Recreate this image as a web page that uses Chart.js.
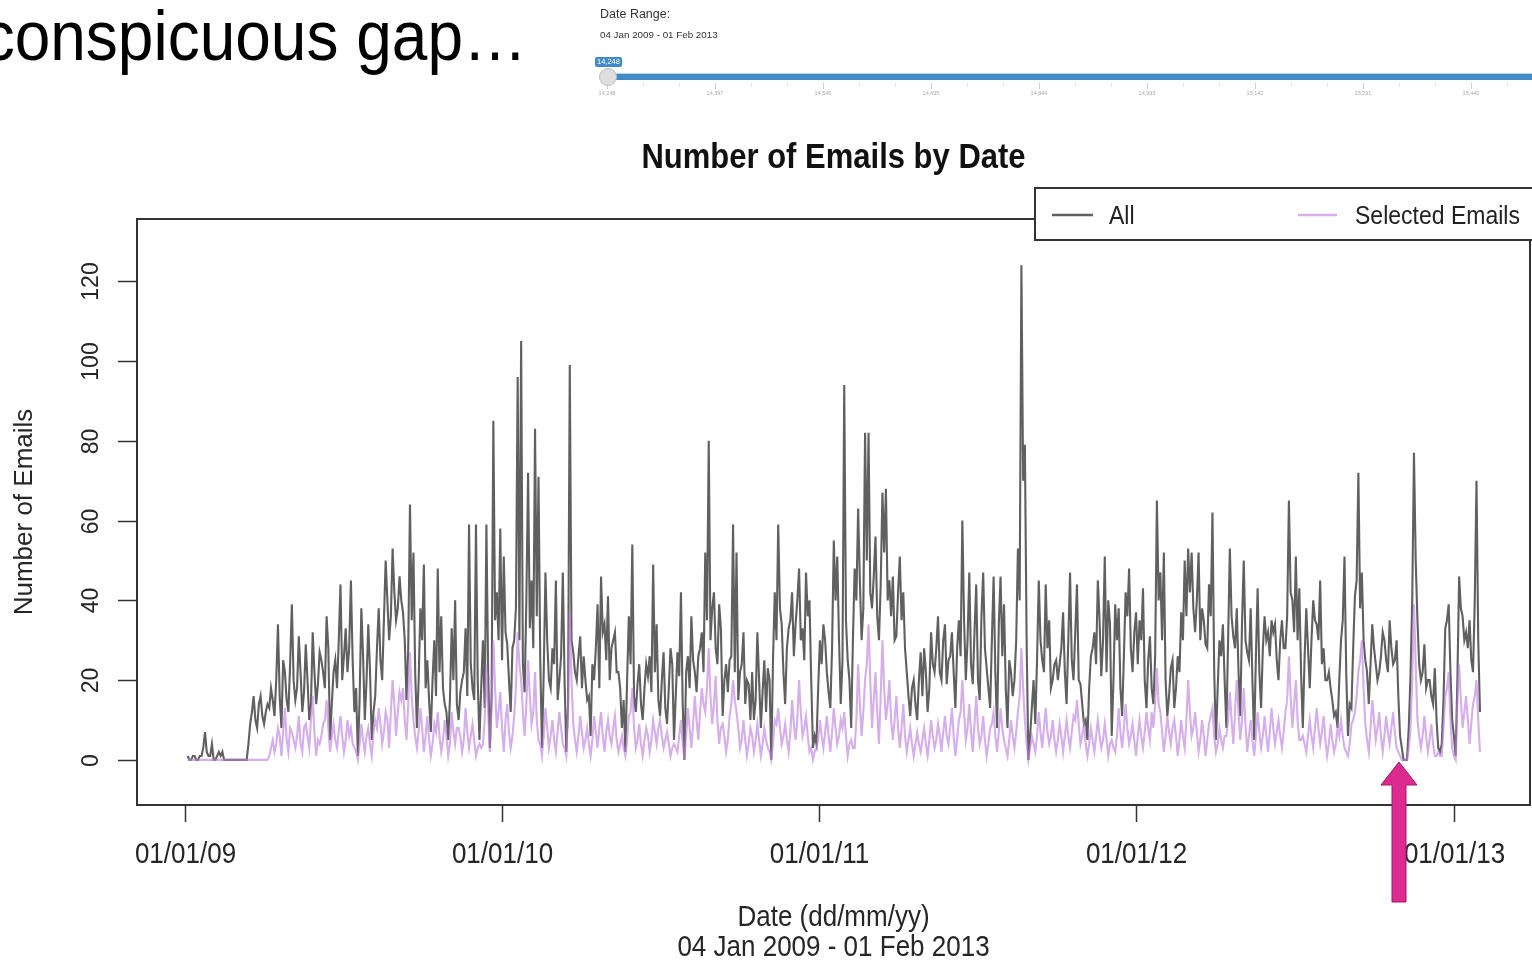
<!DOCTYPE html>
<html lang="en">
<head>
<meta charset="UTF-8">
<title>Number of Emails by Date</title>
<script src="https://cdn.jsdelivr.net/npm/chart.js"></script>
<style>
  html, body { margin: 0; padding: 0; background: #fff; }
  body { width: 1532px; height: 963px; position: relative; overflow: hidden;
         font-family: "Liberation Sans", Arial, sans-serif; }
  .abs { position: absolute; white-space: nowrap; }
  #slideText { right: 1005px; top: 6px; font-size: 64px; line-height: 64px; color: #000;
               transform: scaleY(1.1); transform-origin: 0 56px; }
  #chart { position: absolute; left: 0; top: 0; }
  #arrow { position: absolute; left: 0; top: 0; pointer-events: none; }
</style>
</head>
<body>

<canvas id="chart" width="1532" height="963"></canvas>

<!-- bits of the slide and the shiny slider above the plot -->
<div id="slideText" class="abs">conspicuous gap…</div>
<div id="slider"></div>

<svg id="arrow" width="1532" height="963">
  <polygon points="1399,762 1417,785 1406,785 1406,902 1392,902 1392,785 1381,785"
           fill="#dd2a8f" stroke="#a3156a" stroke-width="1" />
</svg>

<script>
// counts every 2 days from 04 Jan 2009 (day 14248):
// the A lists hold days 0,4,8,.. and the B lists the days in between (2,6,10,..)
const startDay = 14248;

const allA = [
  1,0,1,0,1,7,1,4,0,2,
  2,0,0,0,0,0,0,0,9,16,
  8,16,9,14,18,11,34,8,22,12,
  39,15,31,12,29,10,32,14,27,22,
  36,5,22,18,44,26,22,45,12,1,
  38,10,34,5,16,38,20,50,30,53,
  35,46,37,15,64,52,8,38,49,25,
  7,30,48,36,14,5,33,40,10,20,
  33,59,18,59,5,30,59,3,85,42,
  58,51,29,12,30,96,105,17,72,45,
  83,71,3,47,20,28,45,20,47,2,
  99,27,20,31,26,15,6,20,39,46,
  34,41,28,32,22,8,2,36,54,12,
  24,10,24,26,49,34,11,27,9,28,
  5,27,42,0,26,36,22,26,32,52,
  80,38,28,39,11,24,25,59,52,22,
  32,20,10,10,32,8,25,23,0,42,
  59,34,14,33,42,34,48,33,47,40,
  3,4,30,34,22,13,55,51,14,94,
  25,8,48,63,30,82,82,38,56,30,
  67,68,45,46,31,51,42,22,11,20,
  10,27,28,12,32,22,36,20,34,25,
  32,13,35,60,20,47,19,44,15,47,
  23,13,46,8,46,39,8,22,20,53,
  124,79,0,13,9,45,25,44,35,20,
  25,24,37,14,47,20,44,19,9,5,
  26,32,45,21,51,40,6,39,38,11,
  42,48,22,37,35,43,13,31,14,65,
  47,52,11,23,13,26,37,50,53,52,
  32,52,38,29,44,62,5,30,34,8,
  53,31,38,11,50,27,38,5,43,13,
  36,32,35,34,20,35,28,65,40,51,
  43,8,38,18,40,34,45,28,20,18,
  11,8,30,51,6,13,41,72,47,25,
  14,34,24,22,32,25,35,24,30,6,
  0,0,21,77,35,20,29,20,16,23,
  3,4,33,39,10,1,46,36,32,35,
  22,70,12
];

const allB = [
  0,1,0,1,3,2,1,0,1,1,
  0,0,0,0,0,0,0,4,12,10,
  14,11,12,13,15,20,16,25,15,24,
  20,18,22,17,20,14,22,19,25,18,
  28,14,25,30,20,33,28,25,18,15,
  26,20,22,12,28,25,35,40,36,42,
  38,40,30,28,35,22,20,30,18,15,
  20,16,22,18,12,15,20,14,17,22,
  16,24,15,20,18,13,22,16,35,30,
  25,32,20,28,38,30,24,40,33,28,
  36,25,22,30,18,24,15,26,20,14,
  30,22,26,18,20,16,24,28,18,32,
  25,20,30,22,18,15,20,24,16,19,
  14,18,21,17,22,15,20,13,18,24,
  16,21,14,22,18,25,17,28,22,35,
  30,42,24,33,20,17,26,22,15,24,
  14,19,22,15,20,17,12,20,25,30,
  38,22,28,35,26,40,30,25,36,20,
  6,18,24,30,17,28,40,30,25,35,
  20,30,40,45,38,50,42,46,36,44,
  52,40,36,30,42,35,28,16,18,14,
  20,16,22,18,24,28,22,30,19,26,
  22,28,26,35,30,24,32,20,36,28,
  18,30,22,34,26,18,25,16,30,40,
  70,30,6,20,25,30,22,28,18,24,
  20,28,22,30,25,32,20,14,10,18,
  28,24,35,30,22,34,20,30,18,26,
  36,28,32,24,30,20,25,18,26,40,
  30,20,16,25,18,22,30,36,42,38,
  40,30,35,28,36,22,18,26,20,30,
  36,28,22,34,30,25,20,26,22,28,
  30,26,32,25,30,28,36,42,32,30,
  22,25,28,30,35,30,24,20,22,15,
  12,20,35,22,14,28,45,38,30,22,
  24,28,20,26,30,22,28,25,16,3,
  0,8,40,50,24,22,18,20,14,10,
  2,15,35,22,6,20,38,30,28,25,
  40,30
];

const selectedA = [
  0,0,0,0,0,0,0,0,0,0,
  0,0,0,0,0,0,0,0,0,0,
  0,0,0,0,3,2,8,1,13,2,
  7,3,11,2,9,3,16,1,4,9,
  15,2,9,3,11,2,10,8,3,0,
  9,2,8,1,10,13,4,12,3,20,
  6,17,18,5,27,10,3,13,2,11,
  1,9,12,2,10,1,12,4,8,2,
  13,3,9,1,4,4,24,2,30,8,
  17,2,14,3,11,32,20,6,25,9,
  22,5,1,13,3,10,2,12,4,1,
  37,9,2,11,3,8,1,11,3,12,
  2,10,4,11,2,6,1,11,18,3,
  9,1,8,2,10,4,10,3,7,1,
  4,2,10,0,13,3,16,5,18,12,
  28,9,21,4,9,2,11,20,12,3,
  10,1,8,2,9,1,8,3,0,10,
  13,4,9,2,15,5,20,6,11,2,
  0,3,10,3,11,2,13,4,10,12,
  1,5,3,24,6,20,34,8,22,4,
  30,10,20,5,16,3,14,2,8,1,
  7,2,8,1,10,3,9,2,11,4,
  13,1,10,20,5,14,2,16,4,11,
  1,8,12,2,13,5,1,10,3,12,
  28,10,0,6,2,12,3,13,4,10,
  2,9,2,10,3,11,15,4,9,1,
  8,2,10,3,9,1,5,2,13,3,
  14,4,9,1,10,3,12,5,8,23,
  12,2,11,4,10,1,10,3,20,6,
  12,2,10,1,9,13,2,8,3,6,
  17,4,20,5,18,2,10,1,12,3,
  11,2,13,4,10,3,12,26,8,20,
  5,6,2,10,3,13,4,11,1,9,
  2,8,10,3,1,9,12,22,30,9,
  2,15,5,12,2,11,4,12,3,1,
  0,0,8,39,10,3,11,2,9,1,
  2,1,16,22,3,0,24,8,16,4,
  14,20,2
];

const selectedB = [
  0,0,0,0,0,0,0,0,0,0,
  0,0,0,0,0,0,0,0,0,0,
  0,0,0,1,5,4,6,7,5,8,
  5,6,4,8,6,10,7,5,6,10,
  8,6,5,7,6,5,6,4,2,4,
  5,6,4,7,8,9,7,10,12,14,
  12,15,10,14,16,6,7,8,6,5,
  4,7,6,5,6,4,7,8,6,5,
  7,6,5,3,3,10,12,14,18,12,
  8,10,7,6,18,24,12,14,16,12,
  10,4,6,8,6,5,7,8,3,12,
  20,5,6,7,5,4,5,7,8,6,
  7,6,8,5,4,3,5,12,8,5,
  4,5,6,5,7,8,6,5,4,3,
  3,6,4,6,8,9,10,12,14,18,
  16,14,10,8,6,5,14,15,8,5,
  5,4,6,5,5,4,5,2,4,9,
  8,6,5,7,9,10,12,8,6,3,
  2,5,6,7,6,7,8,6,8,6,
  4,3,10,14,12,24,20,15,12,16,
  18,14,10,10,8,8,6,5,4,4,
  4,5,4,5,6,5,6,7,6,8,
  6,5,12,12,8,7,9,8,6,5,
  4,9,6,7,8,3,5,6,7,16,
  18,4,3,4,6,7,8,7,6,5,
  5,6,6,6,7,10,9,6,4,4,
  5,6,6,5,5,4,3,6,7,8,
  8,6,5,6,6,7,8,12,14,14,
  7,6,7,8,6,5,6,10,12,8,
  7,5,6,5,11,6,4,5,6,10,
  10,12,12,10,9,6,5,6,7,6,
  6,7,8,7,6,7,15,16,14,10,
  5,4,6,6,8,8,7,5,4,5,
  4,6,6,2,4,10,16,25,18,5,
  8,10,8,6,6,7,8,7,2,0,
  0,3,20,24,6,6,6,5,4,1,
  1,8,18,10,1,14,15,12,10,9,
  16,10
];

// axis ticks (x in days since 1970)
const xTickDays = [14245, 14610, 14975, 15340, 15706];
const xTickLabels = ['01/01/09', '01/01/10', '01/01/11', '01/01/12', '01/01/13'];
const yTicks = [0, 20, 40, 60, 80, 100, 120];

// slider tick labels
const sliderTicks = ['14,248', '14,397', '14,546', '14,695', '14,844', '14,993', '15,142', '15,291', '15,440'];

const FONT = '"Liberation Sans", Arial, sans-serif';
const GRAY = '#606060';
const PURPLE = 'rgba(188,125,222,0.62)';

function toPoints(a, b) {
    const pts = [];
    a.forEach((v, i) => {
        pts.push({ x: startDay + i * 4, y: v });
        if (i < b.length) pts.push({ x: startDay + i * 4 + 2, y: b[i] });
    });
    return pts;
}

// text with the slight vertical stretch of the screenshot
function drawText(ctx, text, x, y, stretch, rotated) {
    ctx.save();
    ctx.translate(x, y);
    if (rotated) {
        ctx.rotate(-Math.PI / 2);
        ctx.scale(stretch, 1);
    } else {
        ctx.scale(1, stretch);
    }
    ctx.fillText(text, 0, 0);
    ctx.restore();
}

function seg(ctx, x1, y1, x2, y2) {
    ctx.beginPath();
    ctx.moveTo(x1, y1);
    ctx.lineTo(x2, y2);
    ctx.stroke();
}

// R style frame: box, outside ticks, titles, legend
const rFrame = {
    id: 'rFrame',
    afterDraw(chart) {
        const ctx = chart.ctx;
        const a = chart.chartArea;
        const xs = chart.scales.x;
        const ys = chart.scales.y;
        ctx.save();
        ctx.strokeStyle = '#333';
        ctx.lineWidth = 2;
        ctx.strokeRect(a.left, a.top, a.right - a.left, a.bottom - a.top);

        ctx.lineWidth = 1.5;
        ctx.fillStyle = '#262626';
        ctx.textAlign = 'center';
        ctx.textBaseline = 'middle';

        ctx.font = '26px ' + FONT;
        xTickDays.forEach((d, i) => {
            const px = Math.round(xs.getPixelForValue(d)) + 0.5;
            seg(ctx, px, a.bottom, px, a.bottom + 17);
            drawText(ctx, xTickLabels[i], px, a.bottom + 50, 1.14, false);
        });

        ctx.font = '23px ' + FONT;
        yTicks.forEach(v => {
            const py = Math.round(ys.getPixelForValue(v)) + 0.5;
            seg(ctx, a.left - 19, py, a.left, py);
            drawText(ctx, String(v), a.left - 45, py, 1.0, true);
        });

        const cx = (a.left + a.right) / 2;
        ctx.font = '26px ' + FONT;
        drawText(ctx, 'Number of Emails', 25, (a.top + a.bottom) / 2, 1.0, true);
        drawText(ctx, 'Date (dd/mm/yy)', cx, 918, 1.14, false);
        drawText(ctx, '04 Jan 2009 - 01 Feb 2013', cx, 948, 1.14, false);

        ctx.font = 'bold 31px ' + FONT;
        ctx.fillStyle = '#111';
        drawText(ctx, 'Number of Emails by Date', cx, 158, 1.12, false);

        // legend box, hanging over the top right of the plot
        ctx.fillStyle = '#fff';
        ctx.fillRect(1035, 188, 540, 52);
        ctx.strokeStyle = '#333';
        ctx.lineWidth = 2;
        ctx.strokeRect(1035, 188, 540, 52);
        ctx.lineWidth = 2.5;
        ctx.strokeStyle = GRAY;
        seg(ctx, 1052, 215, 1093, 215);
        ctx.strokeStyle = PURPLE;
        seg(ctx, 1298, 215, 1337, 215);
        ctx.fillStyle = '#222';
        ctx.textAlign = 'left';
        ctx.font = '23px ' + FONT;
        drawText(ctx, 'All', 1109, 217, 1.12, false);
        drawText(ctx, 'Selected Emails', 1355, 217, 1.12, false);
        ctx.restore();
    }
};

new Chart(document.getElementById('chart').getContext('2d'), {
    type: 'line',
    data: {
        datasets: [
            { label: 'All', data: toPoints(allA, allB), borderColor: GRAY, borderWidth: 2.1,
              pointRadius: 0, tension: 0, order: 2 },
            { label: 'Selected Emails', data: toPoints(selectedA, selectedB), borderColor: PURPLE, borderWidth: 2.1,
              pointRadius: 0, tension: 0, order: 1 }
        ]
    },
    options: {
        responsive: false,
        animation: false,
        layout: { padding: { left: 137, top: 219, right: 2, bottom: 158 } },
        scales: {
            x: { type: 'linear', display: false, min: 14189.7, max: 15793.6 },
            y: { display: false, min: -11.3, max: 135.6 }
        },
        plugins: {
            legend: { display: false },
            tooltip: { enabled: false },
            title: { display: false }
        }
    },
    plugins: [rFrame]
});

// slider widget at the top
function buildSlider() {
    const el = document.getElementById('slider');
    let html = '';
    html += '<div class="abs" style="left:600px;top:7px;font-size:12.5px;color:#333">Date Range:</div>';
    html += '<div class="abs" style="left:600px;top:29px;font-size:9.8px;color:#333">04 Jan 2009 - 01 Feb 2013</div>';
    html += '<div class="abs" style="left:608px;top:73px;width:924px;height:1px;background:#b9d3ec"></div>';
    html += '<div class="abs" style="left:608px;top:74px;width:924px;height:6px;background:#428bca"></div>';
    sliderTicks.forEach((t, i) => {
        const x = 607 + 108 * i;
        html += '<div class="abs" style="left:' + x + 'px;top:83px;width:1px;height:6px;background:#d0d0d0"></div>';
        html += '<div class="abs" style="left:' + (x + 36) + 'px;top:83px;width:1px;height:3px;background:#e0e0e0"></div>';
        html += '<div class="abs" style="left:' + (x + 72) + 'px;top:83px;width:1px;height:3px;background:#e0e0e0"></div>';
        html += '<div class="abs" style="left:' + (x - 20) + 'px;top:90px;width:40px;text-align:center;font-size:5.5px;color:#aaa">' + t + '</div>';
    });
    html += '<div class="abs" style="left:599px;top:68px;width:16px;height:16px;border-radius:50%;background:#dedede;border:1px solid #bdbdbd"></div>';
    html += '<div class="abs" style="left:595px;top:57px;width:27px;height:10px;line-height:10px;border-radius:2px;background:#428bca;color:#fff;font-size:7.5px;text-align:center">' + sliderTicks[0] + '</div>';
    el.innerHTML = html;
}
buildSlider();
</script>
</body>
</html>
